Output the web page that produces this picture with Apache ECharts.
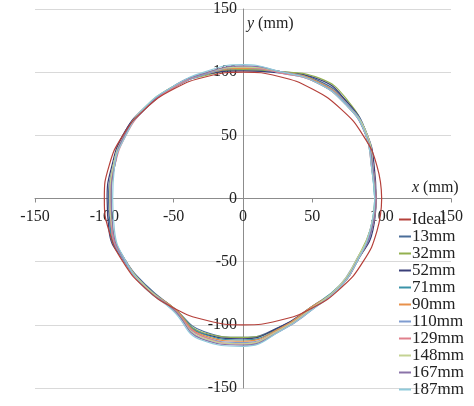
<!DOCTYPE html>
<html><head><meta charset="utf-8">
<script src="https://cdn.jsdelivr.net/npm/echarts@6/dist/echarts.min.js"></script>
<style>html,body{margin:0;padding:0;background:#fff}#c{width:474px;height:406px}</style>
</head><body><div id="c"></div>
<script>
// angles in degrees (0 = +x, counter-clockwise)
const angles = [0,15,30,45,60,75,90,105,120,135,150,165,180,195,210,225,240,255,270,285,300,315,330,345];
const seriesNames = ['Ideal','13mm','32mm','52mm','71mm','90mm','110mm','129mm','148mm','167mm','187mm'];
const colors = ['#b5403a','#4a6d99','#93b04f','#3a3f78','#3a93a8','#e8914a','#7f9cd0','#e0808c','#c4d393','#8a73a8','#8fcadb'];
// radius (mm) at each angle, per series
const r_ideal = angles.map(() => 100);
const r13  = [95,97,103,107,108,104,102,102,101,100,100,97,97,99,98,98,100,109,110,105,100,99,96,96];
const r32  = [96,97,102,108,110,104,102,101,102,100,99,96,95,98,99,99,100,110,110,106,100,99,95,95];
const r52  = [96,98,103,107,109,103,101,102,101,101,100,98,98,100,99,99,101,111,111,105,99,99,96,97];
const r71  = [95,96,102,106,107,104,103,102,101,100,99,97,96,99,98,99,100,111,112,106,99,98,96,95];
const r90  = [96,97,102,106,107,104,103,102,101,100,99,97,96,98,98,99,100,112,113,106,99,99,96,96];
const r110 = [95,97,103,106,106,103,104,102,101,100,99,97,96,98,99,99,101,113,114,107,100,98,95,96];
const r129 = [96,96,102,105,106,103,104,103,101,100,98,96,96,98,98,100,101,113,115,107,100,99,96,95];
const r148 = [95,97,103,105,106,104,104,103,102,101,99,97,96,97,98,99,101,114,115,107,100,98,95,95];
const r167 = [96,97,102,105,106,104,105,103,102,100,99,96,95,97,98,100,101,115,116,108,101,99,96,96];
const r187 = [95,96,102,105,106,104,106,104,102,101,98,96,94,96,98,100,102,116,117,108,101,99,96,95];
const radii = [r_ideal,r13,r32,r52,r71,r90,r110,r129,r148,r167,r187];

function toXY(r){
  const pts = angles.map((a,i)=>{const t=a*Math.PI/180;return [r[i]*Math.cos(t), r[i]*Math.sin(t)];});
  pts.push(pts[0]);
  return pts;
}
const series = seriesNames.map((n,i)=>({
  name:n,type:'line',data:toXY(radii[i]),smooth:0.5,symbol:'none',
  lineStyle:{width:1.2,color:colors[i]},itemStyle:{color:colors[i]},z:i===0?3:2
}));
const font = "'Liberation Serif', 'DejaVu Serif', serif";
const chart = echarts.init(document.getElementById('c'));
chart.setOption({
  animation:false,
  grid:{left:35,right:23,top:9,bottom:18,containLabel:false},
  xAxis:{type:'value',min:-150,max:150,interval:50,offset:-189.5,
    axisLine:{onZero:false,lineStyle:{color:'#8c8c8c'}},
    axisTick:{show:true,length:4,lineStyle:{color:'#8c8c8c'}},
    splitLine:{show:false},
    axisLabel:{fontFamily:font,fontSize:16,color:'#222',margin:10}},
  yAxis:{type:'value',min:-150,max:150,interval:50,offset:-208,
    axisLine:{show:true,onZero:false,lineStyle:{color:'#8c8c8c'}},
    axisTick:{show:false},
    splitLine:{show:true,lineStyle:{color:'#d9d9d9'}},
    axisLabel:{fontFamily:font,fontSize:16,color:'#222',margin:6}},
  legend:{orient:'vertical',left:394,top:206,itemGap:0,itemWidth:12,itemHeight:2,icon:'rect',
    textStyle:{fontFamily:font,fontSize:17,color:'#222',lineHeight:17,padding:[0,0,0,-4]},
    data:seriesNames},
  graphic:[
    {type:'text',left:247,top:16,style:{text:'{i|y} (mm)',fontFamily:font,fontSize:16,fill:'#222',
      rich:{i:{fontStyle:'italic',fontFamily:font,fontSize:16}}}},
    {type:'text',left:412,top:180,style:{text:'{i|x} (mm)',fontFamily:font,fontSize:16,fill:'#222',
      rich:{i:{fontStyle:'italic',fontFamily:font,fontSize:16}}}}
  ],
  series:series
});
</script></body></html>
